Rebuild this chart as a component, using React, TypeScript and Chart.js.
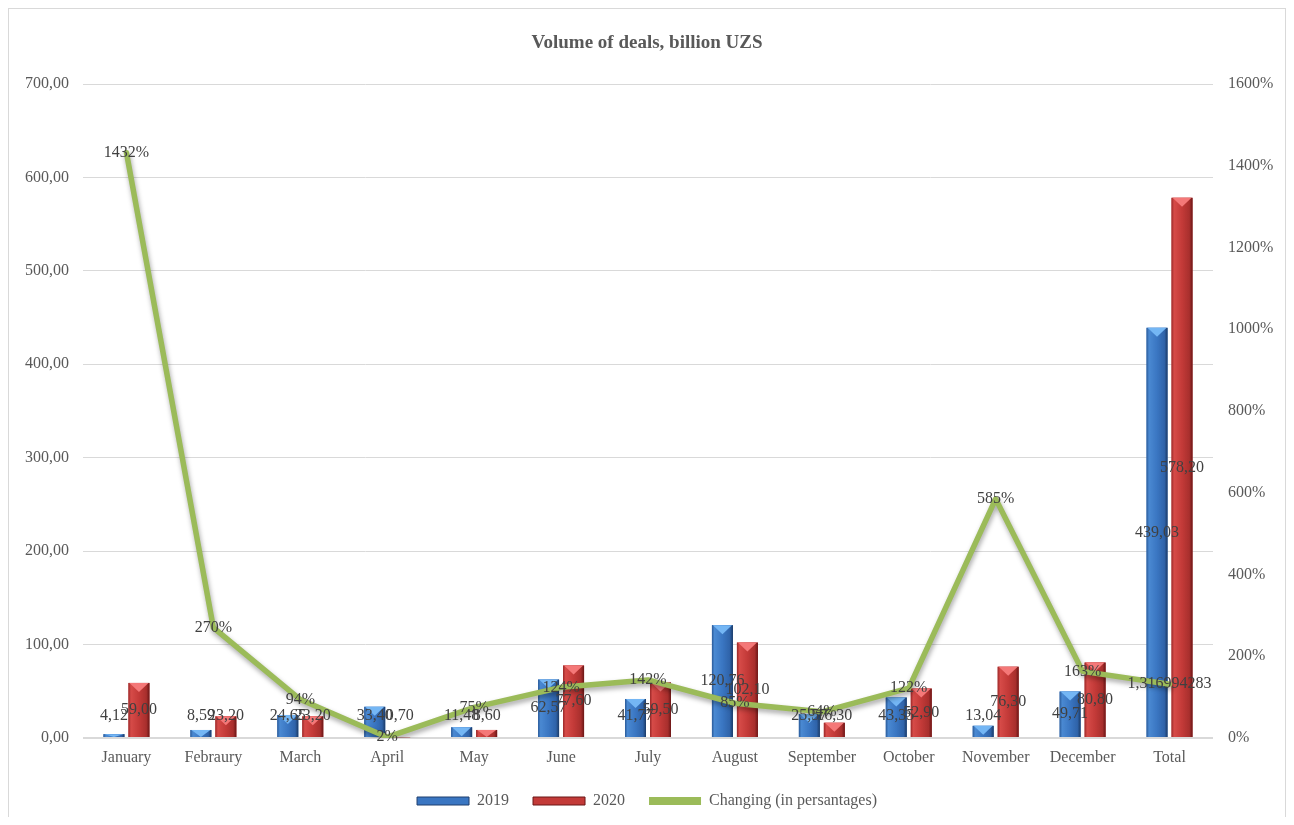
import React, { useEffect, useRef } from 'react';
import { Chart, registerables } from 'chart.js';

Chart.register(...registerables);

const categories = ['January', 'Febraury', 'March', 'April', 'May', 'June', 'July', 'August', 'September', 'October', 'November', 'December', 'Total'];
const values2019 = [4.12, 8.59, 24.65, 33.4, 11.48, 62.57, 41.77, 120.76, 25.57, 43.35, 13.04, 49.71, 439.03];
const values2020 = [59.0, 23.2, 23.2, 0.7, 8.6, 77.6, 59.5, 102.1, 16.3, 52.9, 76.3, 80.8, 578.2];
const changing = [1432, 270, 94, 2, 75, 124, 142, 85, 64, 122, 585, 163, 131.6994283];
const changingLabels = ['1432%', '270%', '94%', '2%', '75%', '124%', '142%', '85%', '64%', '122%', '585%', '163%', '1,316994283'];
const seriesNames = ['2019', '2020', 'Changing (in persantages)'];
const chartTitle = 'Volume of deals, billion UZS';

const FONT = '"Liberation Serif", "Times New Roman", serif';
const fmt = (v: number) => v.toFixed(2).replace('.', ',');

const barStyles: Record<string, { stops: [number, string][]; top: string }> = {
  '2019': {
    stops: [[0, '#2a5a98'], [0.12, '#4a89d2'], [0.5, '#3a76c2'], [0.85, '#2f63a9'], [1, '#1b3a66']],
    top: '#74b6f4',
  },
  '2020': {
    stops: [[0, '#9a2828'], [0.12, '#d64b48'], [0.5, '#c33a38'], [0.85, '#a82f2d'], [1, '#6a1616']],
    top: '#f47878',
  },
};

const bevelPlugin = {
  id: 'bevel',
  beforeDatasetDraw(chart: any, args: any) {
    const ds = chart.data.datasets[args.index];
    if (ds.type === 'line') {
      const ctx = chart.ctx;
      ctx.save();
      ctx.shadowColor = 'rgba(0,0,0,0.35)';
      ctx.shadowBlur = 5;
      ctx.shadowOffsetY = 3;
      ctx.shadowOffsetX = 1;
    }
  },
  afterDatasetDraw(chart: any, args: any) {
    const ds = chart.data.datasets[args.index];
    const ctx = chart.ctx;
    if (ds.type === 'line') {
      ctx.restore();
      return;
    }
    const style = barStyles[ds.label];
    if (!style) return;
    const meta = chart.getDatasetMeta(args.index);
    meta.data.forEach((el: any) => {
      const { x, y, base, width } = el.getProps(['x', 'y', 'base', 'width'], true);
      const left = x - width / 2;
      const h = base - y;
      if (h <= 0) return;
      ctx.save();
      const g = ctx.createLinearGradient(left, 0, left + width, 0);
      style.stops.forEach(([o, c]) => g.addColorStop(o, c));
      ctx.fillStyle = g;
      ctx.fillRect(left, y, width, h);
      const th = Math.min(9, h);
      ctx.beginPath();
      ctx.moveTo(left + 1, y);
      ctx.lineTo(left + width - 1, y);
      ctx.lineTo(x, y + th);
      ctx.closePath();
      ctx.fillStyle = style.top;
      ctx.fill();
      ctx.restore();
    });
  },
};

const labelPlugin = {
  id: 'valueLabels',
  afterDraw(chart: any) {
    const ctx = chart.ctx;
    ctx.save();
    ctx.font = '16px ' + FONT;
    ctx.fillStyle = '#404040';
    ctx.textAlign = 'center';
    ctx.textBaseline = 'middle';
    chart.data.datasets.forEach((ds: any, di: number) => {
      const meta = chart.getDatasetMeta(di);
      meta.data.forEach((el: any, i: number) => {
        if (ds.type === 'line') {
          const { x, y } = el.getProps(['x', 'y'], true);
          ctx.fillText(changingLabels[i], x, y);
        } else {
          const { x, y, base } = el.getProps(['x', 'y', 'base'], true);
          const ly = Math.min((y + base) / 2, base - 21);
          ctx.fillText(fmt(ds.data[i]), x, ly);
        }
      });
    });
    ctx.restore();
  },
};

export default function App() {
  const canvasRef = useRef<HTMLCanvasElement | null>(null);

  useEffect(() => {
    document.documentElement.style.overflow = 'hidden';
    const canvas = canvasRef.current;
    if (!canvas) return;
    const chart = new Chart(canvas, {
      type: 'bar',
      data: {
        labels: categories,
        datasets: [
          {
            type: 'line',
            label: seriesNames[2],
            data: changing,
            yAxisID: 'y1',
            borderColor: '#9bbb59',
            backgroundColor: '#9bbb59',
            borderWidth: 5.5,
            pointRadius: 0,
            tension: 0,
            fill: false,
            borderJoinStyle: 'round',
            borderCapStyle: 'round',
          } as any,
          {
            type: 'bar',
            label: seriesNames[0],
            data: values2019,
            yAxisID: 'y',
            backgroundColor: '#3a76c2',
            categoryPercentage: 0.575,
            barPercentage: 0.84,
          },
          {
            type: 'bar',
            label: seriesNames[1],
            data: values2020,
            yAxisID: 'y',
            backgroundColor: '#c33a38',
            categoryPercentage: 0.575,
            barPercentage: 0.84,
          },
        ],
      },
      options: {
        animation: false,
        responsive: true,
        maintainAspectRatio: false,
        events: [],
        layout: { padding: { top: 0, left: 0, right: 0, bottom: 6 } },
        plugins: {
          tooltip: { enabled: false },
          title: {
            display: true,
            text: chartTitle,
            color: '#595959',
            font: { family: FONT, size: 19, weight: 'bold', lineHeight: 1.2 },
            padding: { top: 23, bottom: 29.2 },
          },
          legend: {
            position: 'bottom',
            maxHeight: 58,
            labels: {
              boxWidth: 52,
              boxHeight: 8,
              padding: 24,
              color: '#595959',
              font: { family: FONT, size: 16 },
              generateLabels: () => [
                { text: seriesNames[0], fillStyle: '#3a76c2', strokeStyle: '#1f3f6e', lineWidth: 1, datasetIndex: 1, hidden: false, fontColor: '#595959' },
                { text: seriesNames[1], fillStyle: '#c33a38', strokeStyle: '#6a1616', lineWidth: 1, datasetIndex: 2, hidden: false, fontColor: '#595959' },
                { text: seriesNames[2], fillStyle: '#9bbb59', strokeStyle: '#9bbb59', lineWidth: 0, datasetIndex: 0, hidden: false, fontColor: '#595959' },
              ] as any,
            },
          },
        },
        scales: {
          x: {
            offset: true,
            grid: { display: false, drawTicks: false },
            border: { display: false },
            ticks: { color: '#595959', font: { family: FONT, size: 16 }, padding: 10, maxRotation: 0, autoSkip: false },
            afterFit: (scale: any) => { scale.height = 31; },
          },
          y: {
            position: 'left',
            min: 0,
            max: 700,
            grid: {
              color: '#d9d9d9',
              lineWidth: (c: any) => (c.tick && c.tick.value === 0 ? 2 : 1),
              drawTicks: false,
            },
            border: { display: false },
            ticks: {
              stepSize: 100,
              color: '#595959',
              font: { family: FONT, size: 16 },
              padding: 14,
              callback: (v: any) => fmt(Number(v)),
            },
            afterFit: (scale: any) => { scale.width = 74; },
          },
          y1: {
            position: 'right',
            min: 0,
            max: 1600,
            grid: { display: false, drawTicks: false },
            border: { display: false },
            ticks: {
              stepSize: 200,
              color: '#595959',
              font: { family: FONT, size: 16 },
              padding: 15,
              callback: (v: any) => v + '%',
            },
            afterFit: (scale: any) => { scale.width = 72; },
          },
        },
      } as any,
      plugins: [bevelPlugin, labelPlugin],
    });
    return () => chart.destroy();
  }, []);

  return (
    <div style={{ width: 1276, height: 816, border: '1px solid #d9d9d9', borderBottom: 'none', marginBottom: -8, background: '#fff' }}>
      <div style={{ position: 'relative', width: 1276, height: 816 }}>
        <canvas ref={canvasRef} />
      </div>
    </div>
  );
}
